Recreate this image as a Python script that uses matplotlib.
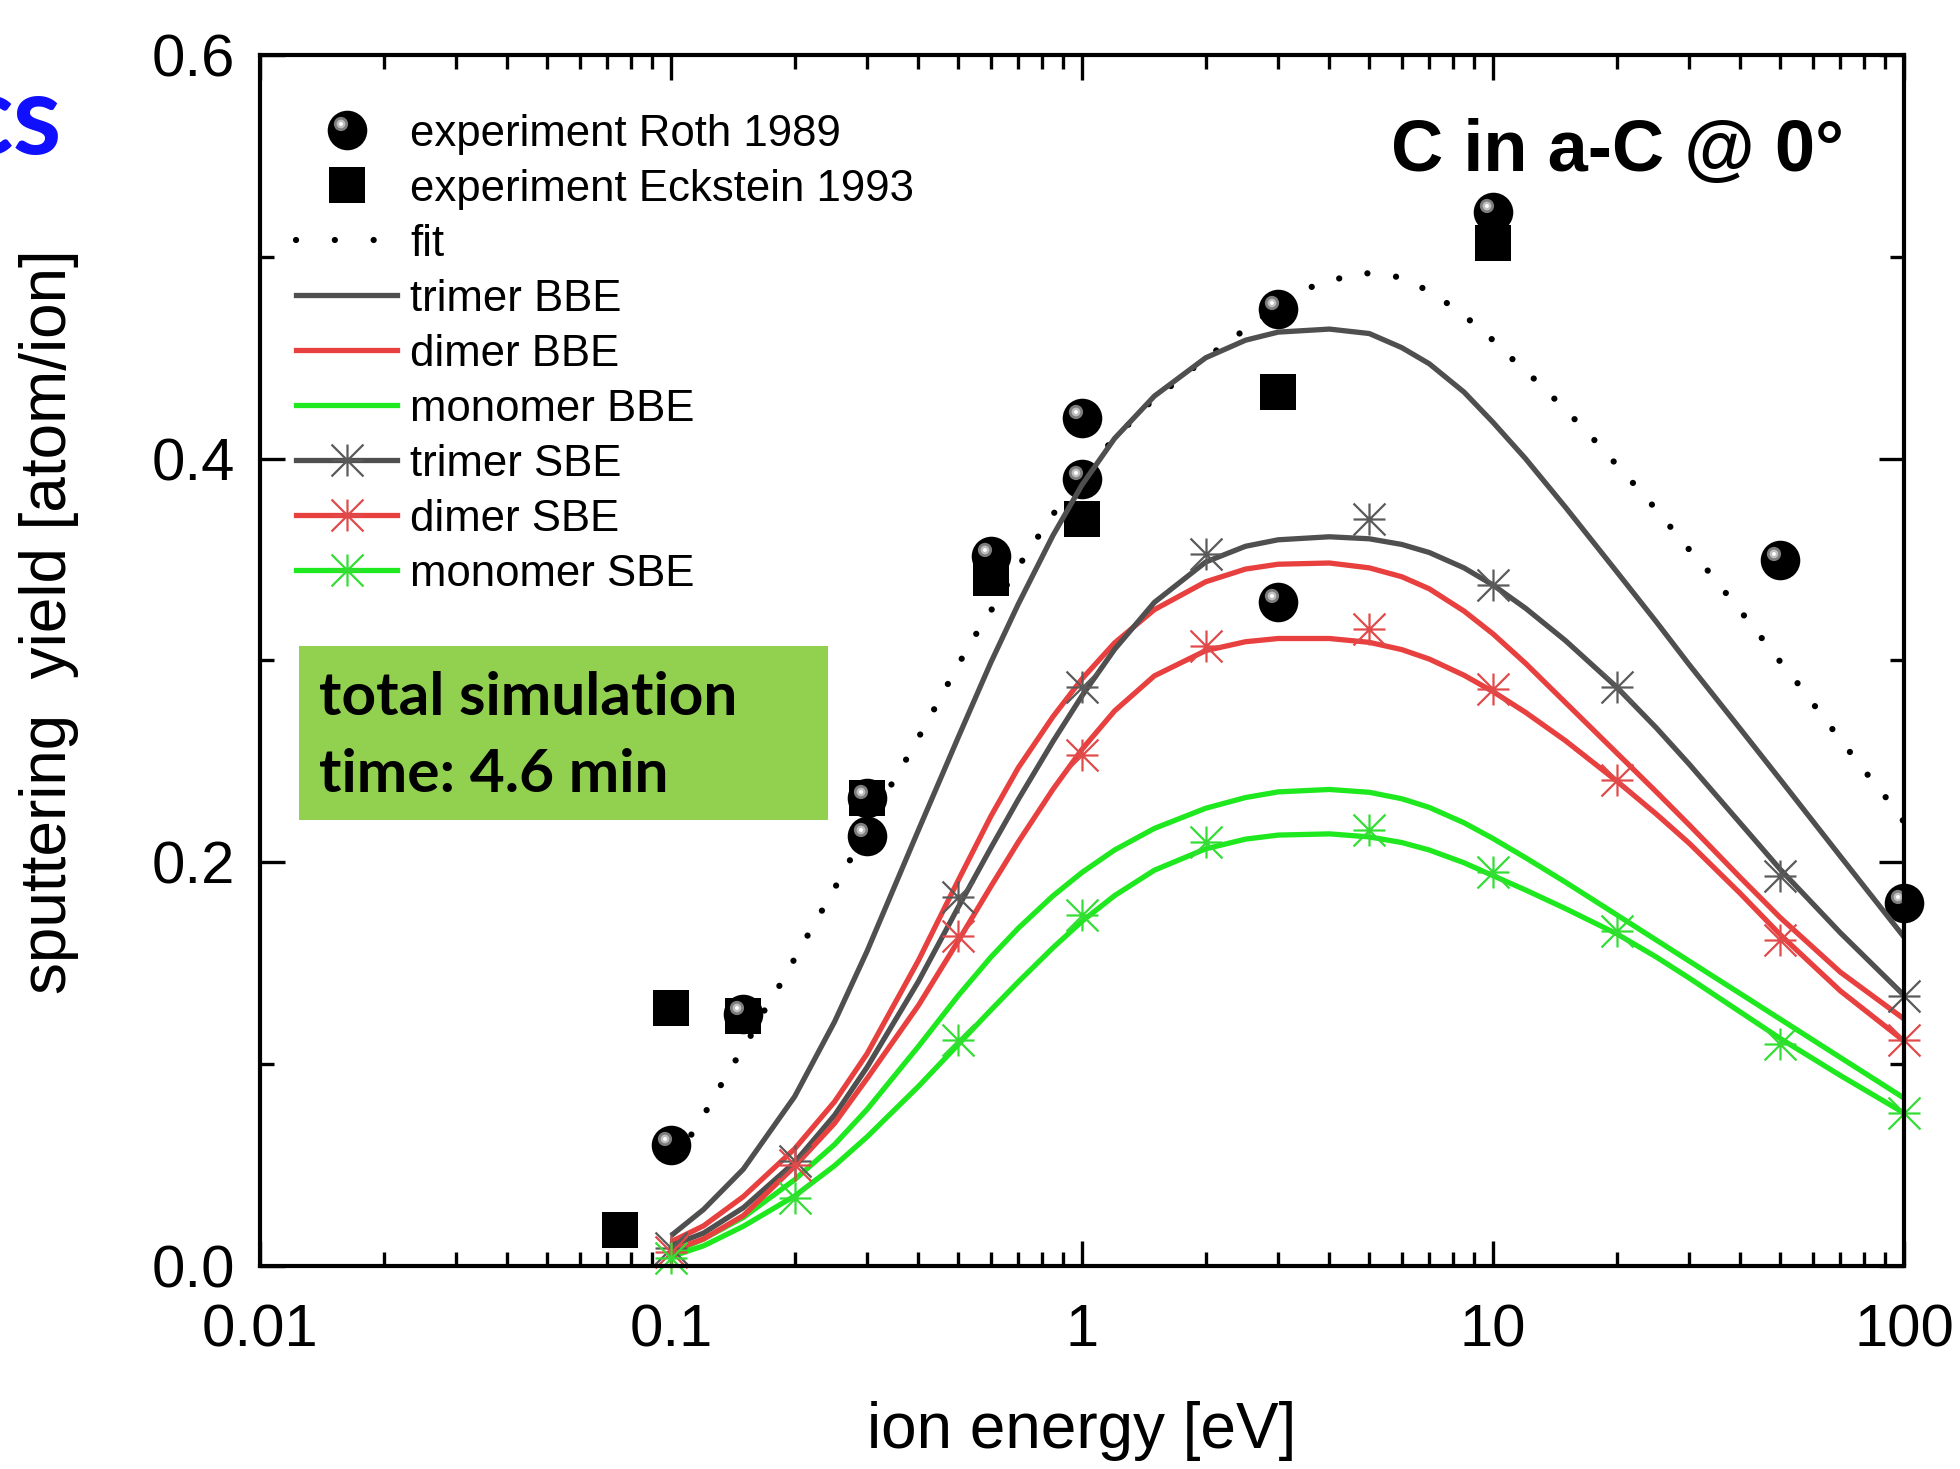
import numpy as np
import matplotlib
matplotlib.use("Agg")
import matplotlib.pyplot as plt
from matplotlib.path import Path
from matplotlib.lines import Line2D
from matplotlib.legend_handler import HandlerTuple
from matplotlib.patches import Rectangle
from matplotlib.ticker import FixedLocator, FixedFormatter, LogLocator, NullFormatter, MultipleLocator

plt.rcParams['font.family'] = ['Liberation Sans', 'DejaVu Sans']

# ---------------- data ----------------
roth_E = [0.1, 0.15, 0.3, 0.3, 0.6, 1, 1, 3, 3, 10, 50, 100]
roth_Y = [0.060, 0.125, 0.213, 0.232, 0.352, 0.420, 0.390, 0.474, 0.329, 0.522, 0.350, 0.180]

eck_E = [0.075, 0.1, 0.15, 0.3, 0.6, 1, 3, 10]
eck_Y = [0.018, 0.128, 0.124, 0.232, 0.341, 0.370, 0.433, 0.507]

fit_E = [0.1, 0.112, 0.1245, 0.138, 0.153, 0.169, 0.1876, 0.207, 0.229, 0.253, 0.338, 0.3745,
         0.415, 0.456, 0.50, 0.554, 0.618, 0.687, 0.768, 0.86, 1.1, 1.26, 1.46, 2.0, 2.36,
         3.3, 3.95, 4.86, 5.9, 7.0, 8.28, 9.69, 11.1, 12.8, 14.8, 17.1, 19.5, 22.3, 25.5,
         29.0, 33.1, 42.6, 48.1, 54.3, 61.5, 69.9, 79.6, 90.3, 100]
fit_Y = [0.055, 0.065, 0.080, 0.0964, 0.1106, 0.1268, 0.142, 0.158, 0.1734, 0.189, 0.236, 0.2514,
         0.2676, 0.2828, 0.298, 0.3135, 0.3287, 0.344, 0.359, 0.3738, 0.4019, 0.4143, 0.4275, 0.4498, 0.4605,
         0.482, 0.488, 0.492, 0.490, 0.483, 0.4729, 0.4613, 0.4497, 0.4382, 0.4255, 0.4123, 0.3994, 0.3862, 0.3726,
         0.3584, 0.3452, 0.3176, 0.3036, 0.2904, 0.2759, 0.261, 0.2461, 0.2322, 0.220]

# smooth simulation curves
curve_E = [0.1, 0.12, 0.15, 0.2, 0.25, 0.3, 0.4, 0.5, 0.6, 0.7, 0.85, 1, 1.2, 1.5, 2, 2.5, 3, 4, 5, 6, 7,
           8.5, 10, 12, 15, 20, 25, 30, 40, 50, 70, 100]
trimer_bbe = [0.015, 0.028, 0.048, 0.084, 0.121, 0.156, 0.216, 0.262, 0.299, 0.328, 0.362, 0.387, 0.410,
              0.431, 0.450, 0.4587, 0.4627, 0.4642, 0.462, 0.455, 0.447, 0.433, 0.418, 0.400, 0.376, 0.344,
              0.319, 0.298, 0.266, 0.241, 0.203, 0.163]
dimer_bbe = [0.012, 0.0199, 0.0344, 0.0581, 0.0814, 0.1052, 0.1514, 0.1911, 0.2228, 0.2469, 0.2722, 0.2909,
             0.3087, 0.3252, 0.339, 0.3453, 0.3477, 0.3483, 0.3459, 0.3415, 0.3355, 0.3245, 0.3132, 0.2986,
             0.2792, 0.2542, 0.2348, 0.2186, 0.1924, 0.1726, 0.1456, 0.1224]
monomer_bbe = [0.0063, 0.0134, 0.0241, 0.0428, 0.0602, 0.0776, 0.1088, 0.134, 0.153, 0.1674, 0.1834, 0.195,
               0.2061, 0.2168, 0.2268, 0.2321, 0.2349, 0.2361, 0.2347, 0.2315, 0.2272, 0.2196, 0.2118, 0.2023,
               0.1902, 0.174, 0.1614, 0.1511, 0.1349, 0.1223, 0.1033, 0.0832]
trimer_sbe_line = [0.010, 0.0163, 0.0289, 0.0514, 0.0747, 0.0985, 0.141, 0.1778, 0.2071, 0.2312, 0.2599,
                   0.2825, 0.3055, 0.3288, 0.3488, 0.3566, 0.3598, 0.3613, 0.3603, 0.3575, 0.3535, 0.3459,
                   0.3374, 0.3259, 0.3099, 0.2868, 0.2665, 0.2487, 0.2193, 0.1965, 0.1651, 0.1341]
dimer_sbe_line = [0.0075, 0.0134, 0.025, 0.0494, 0.0707, 0.0929, 0.1291, 0.1611, 0.188, 0.2101, 0.2362,
                  0.256, 0.275, 0.2924, 0.3049, 0.3093, 0.3109, 0.3109, 0.309, 0.3054, 0.3007, 0.2927,
                  0.2846, 0.2743, 0.2603, 0.2403, 0.2238, 0.2095, 0.1845, 0.1641, 0.1363, 0.1115]
monomer_sbe_line = [0.0046, 0.010, 0.0197, 0.0347, 0.0497, 0.064, 0.089, 0.1098, 0.1268, 0.1408, 0.1577,
                    0.1708, 0.1835, 0.1961, 0.2067, 0.2115, 0.2135, 0.2141, 0.2126, 0.2098, 0.2061, 0.1998,
                    0.1934, 0.1863, 0.1771, 0.1646, 0.153, 0.1427, 0.1258, 0.1127, 0.0944, 0.0758]

# simulated SBE points (asterisks)
sbe_E = [0.1, 0.2, 0.5, 1, 2, 5, 10, 20, 50, 100]
trimer_sbe = [0.009, 0.052, 0.183, 0.287, 0.353, 0.370, 0.3375, 0.287, 0.193, 0.134]
dimer_sbe = [0.007, 0.050, 0.1635, 0.253, 0.307, 0.3155, 0.286, 0.241, 0.1615, 0.112]
monomer_sbe = [0.004, 0.0335, 0.112, 0.174, 0.210, 0.216, 0.195, 0.166, 0.110, 0.0757]

x_ticks = [0.01, 0.1, 1, 10, 100]
x_labels = ['0.01', '0.1', '1', '10', '100']
y_ticks = [0.0, 0.2, 0.4, 0.6]
y_labels = ['0.0', '0.2', '0.4', '0.6']

# ---------------- styles ----------------
GRAY, RED, GREEN = '#4f4f4f', '#e8403f', '#1ee81e'
GRAY_M, RED_M, GREEN_M = '#5a5a5a', '#e04a4a', '#33dd33'
LW = 3.8

ast_path = Path([(-1, 0), (1, 0), (0, -1), (0, 1), (-1, -1), (1, 1), (-1, 1), (1, -1)],
                [Path.MOVETO, Path.LINETO] * 4)


def offset_circle(cx, cy, r):
    c = Path.circle((cx, cy), r)
    verts = np.vstack([[[1.0, 1.0]], c.vertices])
    codes = np.concatenate([[Path.MOVETO], c.codes])
    return Path(verts, codes)


hl1 = offset_circle(-0.33, 0.33, 0.36)
hl2 = offset_circle(-0.33, 0.33, 0.22)
hl3 = offset_circle(-0.33, 0.33, 0.10)
HL = [(hl1, '#7d7d7d'), (hl2, '#c0c0c0'), (hl3, '#ffffff')]

fig = plt.figure(figsize=(19.6, 14.69), dpi=100)
ax = fig.add_axes([260 / 1960, 1 - 1266 / 1469, (1904 - 260) / 1960, (1266 - 55) / 1469])
ax.set_xscale('log')
ax.set_xlim(0.01, 100)
ax.set_ylim(0, 0.6)

# fit
fit_style = dict(color='black', lw=4.5, linestyle=(0, (0.01, 4.6)), dash_capstyle='round')
ax.plot(fit_E, fit_Y, zorder=2, **fit_style)

# experiments
CIRC_MS = 28.5
SQ_MS = 26.5
ax.plot(eck_E, eck_Y, ls='none', marker='s', ms=SQ_MS, mfc='black', mec='black', mew=0, zorder=3,
        clip_on=False)
ax.plot(roth_E, roth_Y, ls='none', marker='o', ms=CIRC_MS, mfc='black', mec='black', mew=0, zorder=3,
        clip_on=False)
for p, col in HL:
    ax.plot(roth_E, roth_Y, ls='none', marker=p, ms=CIRC_MS, mfc=col, mec='none', mew=0, zorder=3.1,
            clip_on=False)

# simulation lines
for ys, c in [(trimer_bbe, GRAY), (dimer_bbe, RED), (monomer_bbe, GREEN),
              (trimer_sbe_line, GRAY), (dimer_sbe_line, RED), (monomer_sbe_line, GREEN)]:
    ax.plot(curve_E, ys, color=c, lw=LW, zorder=4, solid_capstyle='butt', solid_joinstyle='round')

AST_MS = 23
for ys, c in [(trimer_sbe, GRAY_M), (dimer_sbe, RED_M), (monomer_sbe, GREEN_M)]:
    ax.plot(sbe_E, ys, ls='none', marker=ast_path, ms=AST_MS, mfc='none', mec=c, mew=1.6, zorder=5,
            clip_on=False)

# ---------------- axes ----------------
ax.xaxis.set_major_locator(FixedLocator(x_ticks))
ax.xaxis.set_major_formatter(FixedFormatter(x_labels))
ax.xaxis.set_minor_locator(LogLocator(base=10, subs=np.arange(2, 10), numticks=20))
ax.xaxis.set_minor_formatter(NullFormatter())
ax.yaxis.set_major_locator(FixedLocator(y_ticks))
ax.yaxis.set_major_formatter(FixedFormatter(y_labels))
ax.yaxis.set_minor_locator(MultipleLocator(0.1))

ax.tick_params(which='both', direction='in', top=True, right=True, width=2.4, labelsize=43)
ax.tick_params(which='major', length=18)
ax.tick_params(which='minor', length=10)
ax.tick_params(axis='x', which='major', pad=27)
ax.tick_params(axis='y', which='major', pad=18)
for s in ax.spines.values():
    s.set_linewidth(3.0)
    s.set_zorder(6)

ax.set_xlabel('ion energy [eV]', fontsize=46)
ax.xaxis.set_label_coords(0.5, -0.1115)
ax.set_ylabel('sputtering  yield [atom/ion]', fontsize=46)
ax.yaxis.set_label_coords(-0.110, 0.532)

# ---------------- legend ----------------
roth_h = tuple([Line2D([], [], ls='none', marker='o', ms=CIRC_MS, mfc='black', mec='black', mew=0)] +
               [Line2D([], [], ls='none', marker=p, ms=CIRC_MS, mfc=col, mec='none', mew=0)
                for p, col in HL])
eck_h = Line2D([], [], ls='none', marker='s', ms=SQ_MS, mfc='black', mec='black', mew=0)
fit_h = Line2D([], [], color='black', lw=4.5, linestyle=(0, (0.01, 6.2)), dash_capstyle='round')
h_tb = Line2D([], [], color=GRAY, lw=LW)
h_db = Line2D([], [], color=RED, lw=LW)
h_mb = Line2D([], [], color=GREEN, lw=LW)
h_ts = Line2D([], [], color=GRAY, lw=LW, marker=ast_path, ms=AST_MS, mfc='none', mec=GRAY_M, mew=1.6)
h_ds = Line2D([], [], color=RED, lw=LW, marker=ast_path, ms=AST_MS, mfc='none', mec=RED_M, mew=1.6)
h_ms = Line2D([], [], color=GREEN, lw=LW, marker=ast_path, ms=AST_MS, mfc='none', mec=GREEN_M, mew=1.6)
handles = [roth_h, eck_h, fit_h, h_tb, h_db, h_mb, h_ts, h_ds, h_ms]
labels = ['experiment Roth 1989', 'experiment Eckstein 1993', 'fit', 'trimer BBE', 'dimer BBE',
          'monomer BBE', 'trimer SBE', 'dimer SBE', 'monomer SBE']
leg = ax.legend(handles, labels, loc='upper left', bbox_to_anchor=(0.022, 0.9515), frameon=False,
                fontsize=31.5, handlelength=2.31, handletextpad=0.3, labelspacing=0.32,
                borderpad=0, borderaxespad=0, numpoints=1,
                handler_map={tuple: HandlerTuple(ndivide=1, pad=0)})
leg.set_zorder(10)

ax.text(0.9635, 0.9042, 'C in a-C @ 0°', transform=ax.transAxes, ha='right', va='baseline',
        fontsize=52, fontweight='bold')

# green info box
ax.add_patch(Rectangle((0.0237, 0.3683), 0.3218, 0.1437, transform=ax.transAxes,
                       facecolor='#92d050', edgecolor='none', zorder=6, clip_on=False))
ax.text(0.0359, 0.455, 'total simulation', transform=ax.transAxes, ha='left', va='baseline',
        fontsize=43.5, fontweight='bold', family=['Lato', 'DejaVu Sans'], zorder=7)
ax.text(0.0359, 0.3914, 'time: 4.6 min', transform=ax.transAxes, ha='left', va='baseline',
        fontsize=43.5, fontweight='bold', family=['Lato', 'DejaVu Sans'], zorder=7)

# fragment of slide title at top-left
fig.text(62 / 1960, 1 - 154 / 1469, 'cs', ha='right', va='baseline', fontsize=80,
         fontweight='bold', color='#1010ff', family=['Lato', 'DejaVu Sans'])

fig.savefig('out.png', dpi=100)
